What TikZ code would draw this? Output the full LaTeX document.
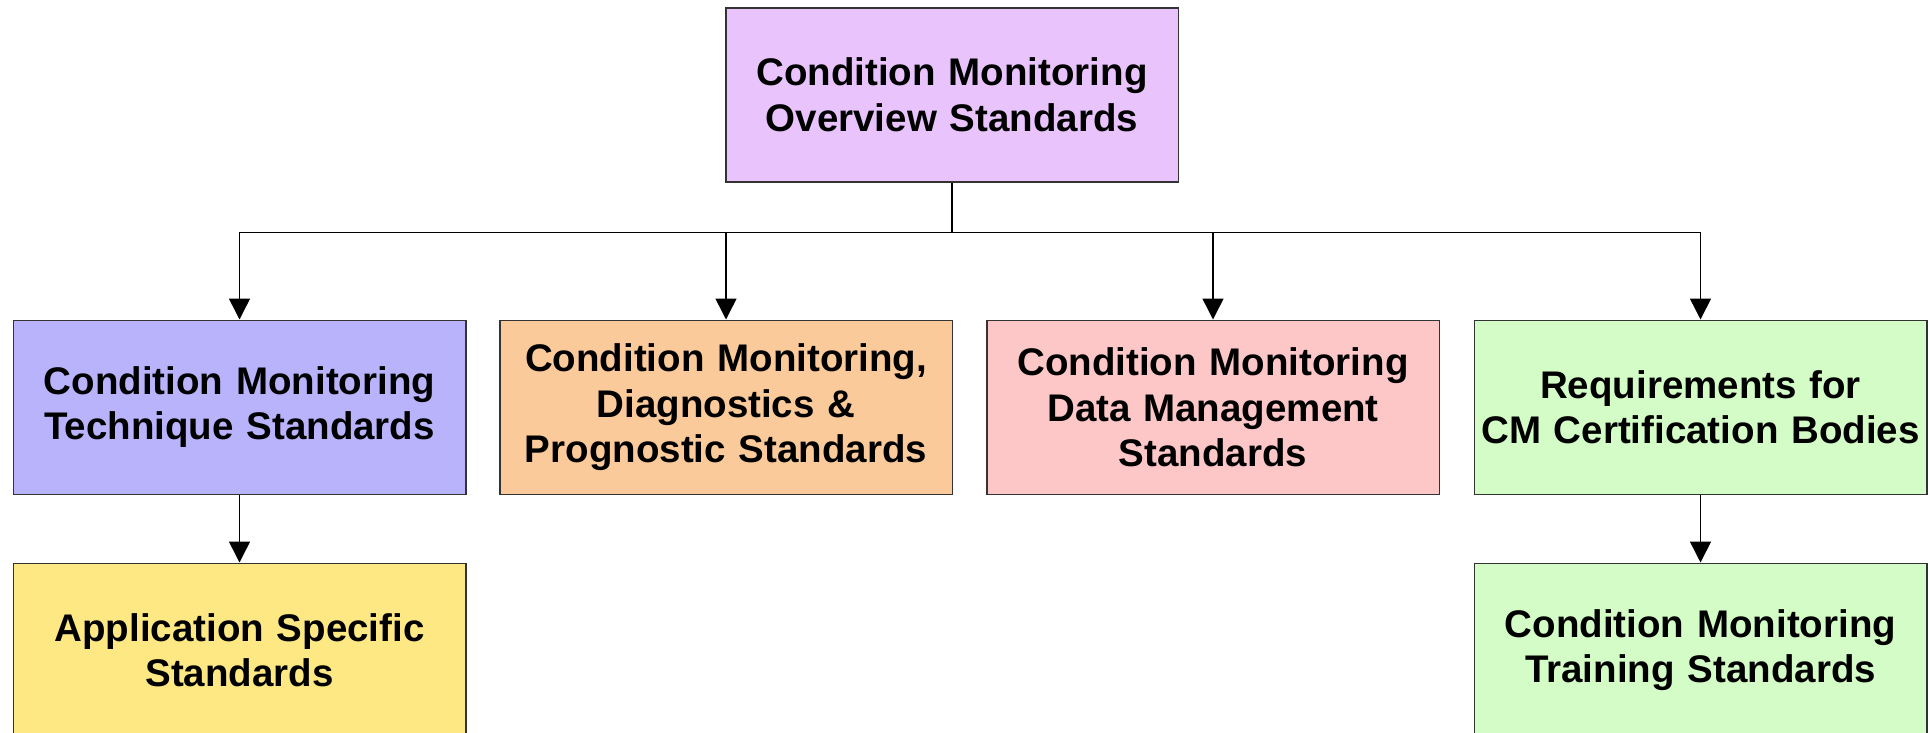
\documentclass[tikz,border=0pt]{standalone}
\usepackage{fontspec}
\setmainfont{Liberation Sans}
\usetikzlibrary{arrows.meta}

\definecolor{cmPurple}{HTML}{E8C3FC}
\definecolor{cmBlue}{HTML}{B8B3FB}
\definecolor{cmOrange}{HTML}{FBCA9A}
\definecolor{cmPink}{HTML}{FDC7C7}
\definecolor{cmGreen}{HTML}{D4FCC6}
\definecolor{cmYellow}{HTML}{FDE884}
\definecolor{cmEdge}{HTML}{333333}

\tikzset{
  stdbox/.style={draw=cmEdge, line width=1.5pt, anchor=north west,
    minimum width=452.5pt, minimum height=174pt, inner sep=0pt,
    text width=440pt, align=center,
    font=\fontsize{38.5}{45.5}\selectfont\bfseries},
  link/.style={line width=1.5pt, black},
  linkarrow/.style={link, -{Triangle[length=21pt,width=21pt]}}
}

\begin{document}
\begin{tikzpicture}[x=1pt,y=-1pt]
  \useasboundingbox (0,0) rectangle (1928,732);
  \clip (0,0) rectangle (1928,732);

  % top level
  \node[stdbox, fill=cmPurple] (top) at (725,7)
    {Condition Monitoring\\Overview Standards};

  % second row
  \node[stdbox, fill=cmBlue]   (tech) at (12.5,319.5)
    {Condition Monitoring\\Technique Standards};
  \node[stdbox, fill=cmOrange] (diag) at (499,319.5)
    {Condition Monitoring,\\Diagnostics \&\\Prognostic Standards};
  \node[stdbox, fill=cmPink]   (data) at (986,319.5)
    {Condition Monitoring\\Data Management\\Standards};
  \node[stdbox, fill=cmGreen]  (cert) at (1473.5,319.5)
    {Requirements for\\CM Certification Bodies};

  % third row
  \node[stdbox, fill=cmYellow] (app)   at (12.5,562.5)
    {Application Specific\\Standards};
  \node[stdbox, fill=cmGreen]  (train) at (1473.5,562.5)
    {Condition Monitoring\\Training Standards};

  % distribution bus below the top box
  \coordinate (bus) at (top.south |- 0,232.5);
  \draw[link] (top.south) -- (bus);
  \foreach \child in {tech,diag,data,cert}
    \draw[linkarrow] (bus) -| (\child.north);

  % vertical links to the third row
  \draw[linkarrow] (tech.south) -- (app.north);
  \draw[linkarrow] (cert.south) -- (train.north);
\end{tikzpicture}
\end{document}
